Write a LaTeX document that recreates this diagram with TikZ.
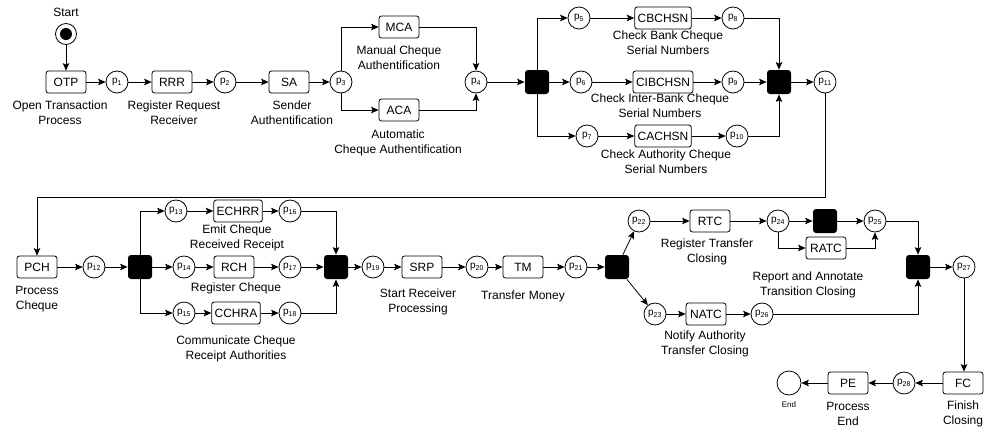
\documentclass[tikz,border=0pt]{standalone}
\usepackage{fontspec}
\setmainfont{Liberation Sans}
\usetikzlibrary{arrows.meta}
\begin{document}
\begin{tikzpicture}[->,>={Stealth[length=7.5pt,width=6.5pt,inset=1.5pt]},x=1pt,y=-1pt,line width=0.8pt,
  trans/.style={draw,-,rounded corners=2.5pt,minimum width=40pt,minimum height=22pt,inner xsep=3pt,inner ysep=1pt,font=\fontsize{12}{14}\selectfont},
  place/.style={draw,-,circle,minimum size=22pt,inner sep=0pt,font=\fontsize{10}{10}\selectfont},
  bar/.style={fill=black,-,rounded corners=3pt,minimum size=24pt,inner sep=0pt},
  lbl/.style={align=center,font=\fontsize{12}{15}\selectfont,inner sep=0pt}]

\useasboundingbox (0,0) rectangle (984,432);

% first row
\node [draw,circle,minimum size=21pt,inner sep=0pt] (start) at (66,34) {};
\fill (start.center) circle (6pt);
\node [lbl] (lstart) at (66,12) {Start};

\node [trans] (otp) at (66,82) {OTP};
\node [place] (p1) at (117,82) {p\textsubscript{1}};
\node [trans] (rrr) at (172,82) {RRR};
\node [place] (p2) at (225,82) {p\textsubscript{2}};
\node [trans] (sa) at (289,82) {SA};
\node [place] (p3) at (341,82) {p\textsubscript{3}};
\node [trans] (mca) at (399,27) {MCA};
\node [trans] (aca) at (399,110) {ACA};
\node [place] (p4) at (476,82) {p\textsubscript{4}};
\node [bar] (t1) at (537,82) {};
\node [place] (p5) at (579,18) {p\textsubscript{5}};
\node [place] (p6) at (581,82) {p\textsubscript{6}};
\node [place] (p7) at (587,136) {p\textsubscript{7}};
\node [trans] (cbchsn) at (663,18) {CBCHSN};
\node [trans] (cibchsn) at (663,82) {CIBCHSN};
\node [trans] (cachsn) at (663,136) {CACHSN};
\node [place] (p8) at (733,18) {p\textsubscript{8}};
\node [place] (p9) at (733,82) {p\textsubscript{9}};
\node [place] (p10) at (737,136) {p\textsubscript{10}};
\node [bar] (t2) at (779,82) {};
\node [place] (p11) at (825,82) {p\textsubscript{11}};

\node [lbl] at (60,113) {Open Transaction\\Process};
\node [lbl] at (174,113) {Register Request\\Receiver};
\node [lbl] at (292,113) {Sender\\Authentification};
\node [lbl] at (399,58) {Manual Cheque\\Authentification};
\node [lbl] at (398,143) {Automatic\\Cheque Authentification};
\node [lbl] at (668,43) {Check Bank Cheque\\Serial Numbers};
\node [lbl] at (660,106) {Check Inter-Bank Cheque\\Serial Numbers};
\node [lbl] at (666,162) {Check Authority Cheque\\Serial Numbers};

% second row
\node [trans] (pch) at (37,267) {PCH};
\node [place] (p12) at (94,267) {p\textsubscript{12}};
\node [bar] (t3) at (140,267) {};
\node [place] (p13) at (176,211) {p\textsubscript{13}};
\node [place] (p14) at (184,267) {p\textsubscript{14}};
\node [place] (p15) at (184,313) {p\textsubscript{15}};
\node [trans] (echrr) at (238,211) {ECHRR};
\node [trans] (rch) at (234,267) {RCH};
\node [trans] (cchra) at (236,313) {CCHRA};
\node [place] (p16) at (290,211) {p\textsubscript{16}};
\node [place] (p17) at (290,267) {p\textsubscript{17}};
\node [place] (p18) at (290,313) {p\textsubscript{18}};
\node [bar] (t4) at (336,267) {};
\node [place] (p19) at (373,267) {p\textsubscript{19}};
\node [trans] (srp) at (422,267) {SRP};
\node [place] (p20) at (477,267) {p\textsubscript{20}};
\node [trans] (tm) at (523,267) {TM};
\node [place] (p21) at (576,267) {p\textsubscript{21}};
\node [bar] (t5) at (617,267) {};
\node [place] (p22) at (639,221) {p\textsubscript{22}};
\node [place] (p23) at (655,314) {p\textsubscript{23}};
\node [trans] (rtc) at (710,221) {RTC};
\node [place] (p24) at (778,221) {p\textsubscript{24}};
\node [bar] (t6) at (825,221) {};
\node [place] (p25) at (875,221) {p\textsubscript{25}};
\node [trans] (ratc) at (826,248) {RATC};
\node [trans] (natc) at (706,314) {NATC};
\node [place] (p26) at (762,314) {p\textsubscript{26}};
\node [bar] (t7) at (918,267) {};
\node [place] (p27) at (964,267) {p\textsubscript{27}};
\node [trans] (fc) at (963,383) {FC};
\node [place] (p28) at (904,383) {p\textsubscript{28}};
\node [trans] (pe) at (848,383) {PE};
\node [draw,circle,minimum size=24pt,inner sep=0pt] (end) at (789,383) {};

\node [lbl] at (37,299) {Process\\Cheque};
\node [lbl] at (237,238) {Emit Cheque\\Received Receipt};
\node [lbl] at (236,288) {Register Cheque};
\node [lbl] at (236,349) {Communicate Cheque\\Receipt Authorities};
\node [lbl] at (418,302) {Start Receiver\\Processing};
\node [lbl] at (523,296) {Transfer Money};
\node [lbl] at (707,252) {Register Transfer\\Closing};
\node [lbl] at (808,285) {Report and Annotate\\Transition Closing};
\node [lbl] at (705,344) {Notify Authority\\Transfer Closing};
\node [lbl,font=\fontsize{8}{10}\selectfont] at (789,405) {End};
\node [lbl] at (848,414) {Process\\End};
\node [lbl] at (963,414) {Finish\\Closing};

\coordinate (turn) at (825,197);

% arcs
\draw (start) -- (otp);
\draw (otp) -- (p1);
\draw (p1) -- (rrr);
\draw (rrr) -- (p2);
\draw (p2) -- (sa);
\draw (sa) -- (p3);
\draw (p3.north) |- (mca.west);
\draw (p3.south) |- (aca.west);
\draw (mca.east) -| (p4.north);
\draw (aca.east) -| (p4.south);
\draw (p4) -- (t1);
\draw (t1.north) |- (p5.west);
\draw (t1) -- (p6);
\draw (t1.south) |- (p7.west);
\draw (p5) -- (cbchsn);
\draw (p6) -- (cibchsn);
\draw (p7) -- (cachsn);
\draw (cbchsn) -- (p8);
\draw (cibchsn) -- (p9);
\draw (cachsn) -- (p10);
\draw (p8.east) -| (t2.north);
\draw (p9) -- (t2);
\draw (p10.east) -| (t2.south);
\draw (t2) -- (p11);
\draw (p11.south) -- (turn) -| (pch.north);
\draw (pch) -- (p12);
\draw (p12) -- (t3);
\draw (t3.north) |- (p13.west);
\draw (t3) -- (p14);
\draw (t3.south) |- (p15.west);
\draw (p13) -- (echrr);
\draw (p14) -- (rch);
\draw (p15) -- (cchra);
\draw (echrr) -- (p16);
\draw (rch) -- (p17);
\draw (cchra) -- (p18);
\draw (p16.east) -| (t4.north);
\draw (p17) -- (t4);
\draw (p18.east) -| (t4.south);
\draw (t4) -- (p19);
\draw (p19) -- (srp);
\draw (srp) -- (p20);
\draw (p20) -- (tm);
\draw (tm) -- (p21);
\draw (p21) -- (t5);
\draw (t5) -- (p22);
\draw (t5) -- (p23);
\draw (p22) -- (rtc);
\draw (rtc) -- (p24);
\draw (p24) -- (t6);
\draw (t6) -- (p25);
\draw (p24.south) |- (ratc.west);
\draw (ratc.east) -| (p25.south);
\draw (p23) -- (natc);
\draw (natc) -- (p26);
\draw (p25.east) -| (t7.north);
\draw (p26.east) -| (t7.south);
\draw (t7) -- (p27);
\draw (p27.south) -- (p27.south |- fc.north);
\draw (fc) -- (p28);
\draw (p28) -- (pe);
\draw (pe) -- (end);

\end{tikzpicture}
\end{document}
